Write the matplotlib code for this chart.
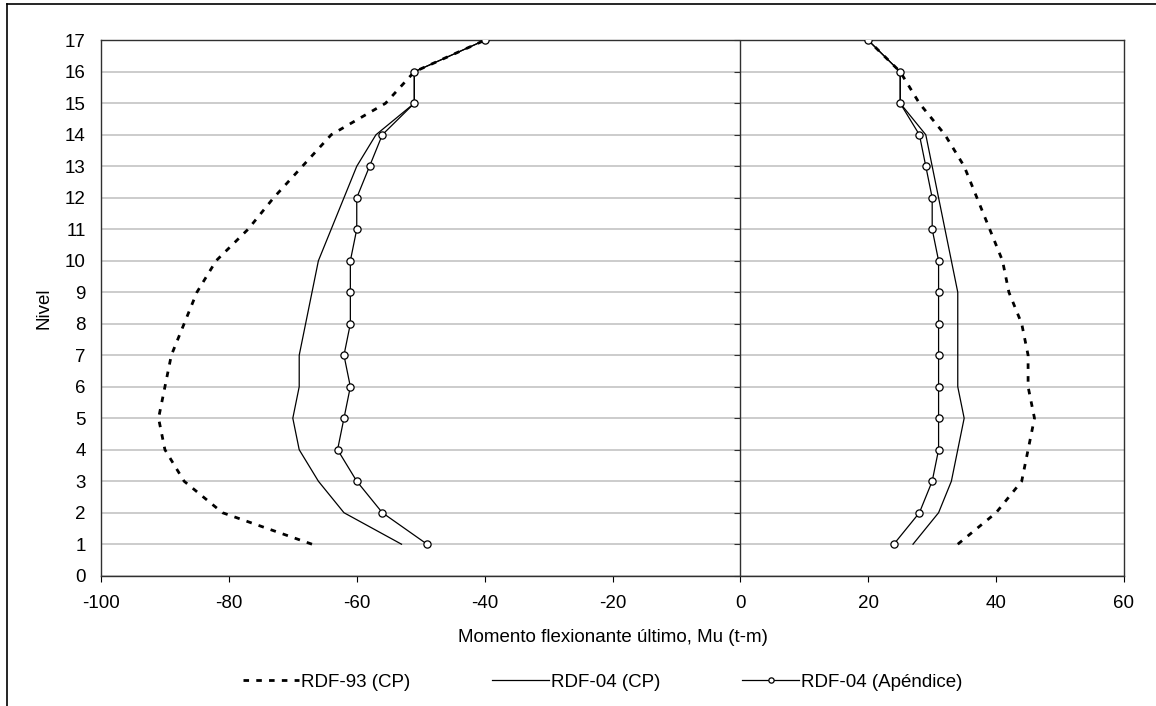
import matplotlib
matplotlib.use("Agg")
import matplotlib.pyplot as plt
from matplotlib.lines import Line2D, TICKLEFT

plt.rcParams['font.family'] = ['Liberation Sans', 'DejaVu Sans']
plt.rcParams['axes.unicode_minus'] = False

niveles = list(range(1, 18))

# Momento negativo (lado izquierdo), niveles 1..17
rdf93_neg = [-67, -81, -87, -90, -91, -90, -89, -87, -85, -82, -77, -73, -68.5, -64, -55.5, -51, -40]
rdf04_neg = [-53, -62, -66, -69, -70, -69, -69, -68, -67, -66, -64, -62, -60, -57, -51, -51, -40]
apend_neg = [-49, -56, -60, -63, -62, -61, -62, -61, -61, -61, -60, -60, -58, -56, -51, -51, -40]

# Momento positivo (lado derecho)
rdf93_pos = [34, 40, 44, 45, 46, 45, 45, 44, 42, 41, 39, 37, 35, 32, 28, 25, 20]
rdf04_pos = [27, 31, 33, 34, 35, 34, 34, 34, 34, 33, 32, 31, 30, 29, 25, 25, 20]
apend_pos = [24, 28, 30, 31, 31, 31, 31, 31, 31, 31, 30, 30, 29, 28, 25, 25, 20]

xticks = [-100, -80, -60, -40, -20, 0, 20, 40, 60]
yticks = list(range(0, 18))

W, H = 1156, 706
FS = 13.5
fig = plt.figure(figsize=(W / 100, H / 100), dpi=100)
left, right, top, bot = 101, 1124, 40.3, 575.7
ax = fig.add_axes([left / W, 1 - bot / H, (right - left) / W, (bot - top) / H])

dash_kw = dict(color='black', lw=2.0, linestyle=(0, (2, 2.6)))
solid_kw = dict(color='black', lw=0.9)
mark_kw = dict(color='black', lw=0.9, marker='o', markersize=5.2,
               markerfacecolor='white', markeredgecolor='black', markeredgewidth=0.9)

ax.plot(rdf93_neg, niveles, **dash_kw, zorder=3)
ax.plot(rdf93_pos, niveles, **dash_kw, zorder=3)
ax.plot(rdf04_neg, niveles, **solid_kw, zorder=4)
ax.plot(rdf04_pos, niveles, **solid_kw, zorder=4)
ax.plot(apend_neg, niveles, **mark_kw, zorder=5)
ax.plot(apend_pos, niveles, **mark_kw, zorder=5)

ax.set_xlim(-100, 60)
ax.set_ylim(0, 17)
ax.set_xticks(xticks)
ax.set_yticks(yticks)
ax.tick_params(axis='y', length=0, labelsize=FS, pad=11)
ax.tick_params(axis='x', direction='out', length=4, width=0.8, labelsize=FS, pad=10)
ax.yaxis.grid(True, color='#c8c8c8', lw=1.3, zorder=0)
ax.set_axisbelow(True)
for s in ax.spines.values():
    s.set_color('#303030')
    s.set_linewidth(1.0)

# eje vertical en x = 0 con marcas
ax.axvline(0, color='#303030', lw=1.0, zorder=2)
ax.plot([0] * len(yticks), yticks, linestyle='none', marker=TICKLEFT,
        markersize=4, markeredgewidth=0.8, color='#303030', zorder=2, clip_on=False)

ax.set_xlabel("Momento flexionante último, Mu (t-m)", fontsize=FS, va='center')
ax.xaxis.set_label_coords(0.5, (bot - 638) / (bot - top))
ax.set_ylabel("Nivel", fontsize=FS, va='center')
ax.yaxis.set_label_coords((44 - left) / (right - left), 0.5)

leg_mark = dict(mark_kw)
leg_mark['markersize'] = 3.8
handles = [
    Line2D([], [], **dash_kw),
    Line2D([], [], **solid_kw),
    Line2D([], [], **leg_mark),
]
labels = ["RDF-93 (CP)", "RDF-04 (CP)", "RDF-04 (Apéndice)"]
fig.legend(handles, labels, loc='center', bbox_to_anchor=(0.521, 1 - 682 / H), ncol=3,
           frameon=False, fontsize=FS, handlelength=3.0, handletextpad=0.1,
           columnspacing=4.4, numpoints=1)

# marco exterior
fig.add_artist(Line2D([6.5 / W, 6.5 / W], [0, 1 - 3.5 / H], transform=fig.transFigure,
                      color='black', lw=1.2))
fig.add_artist(Line2D([6.5 / W, 1], [1 - 3.5 / H, 1 - 3.5 / H], transform=fig.transFigure,
                      color='black', lw=1.2))

fig.savefig("out.png", dpi=100, facecolor='white')
